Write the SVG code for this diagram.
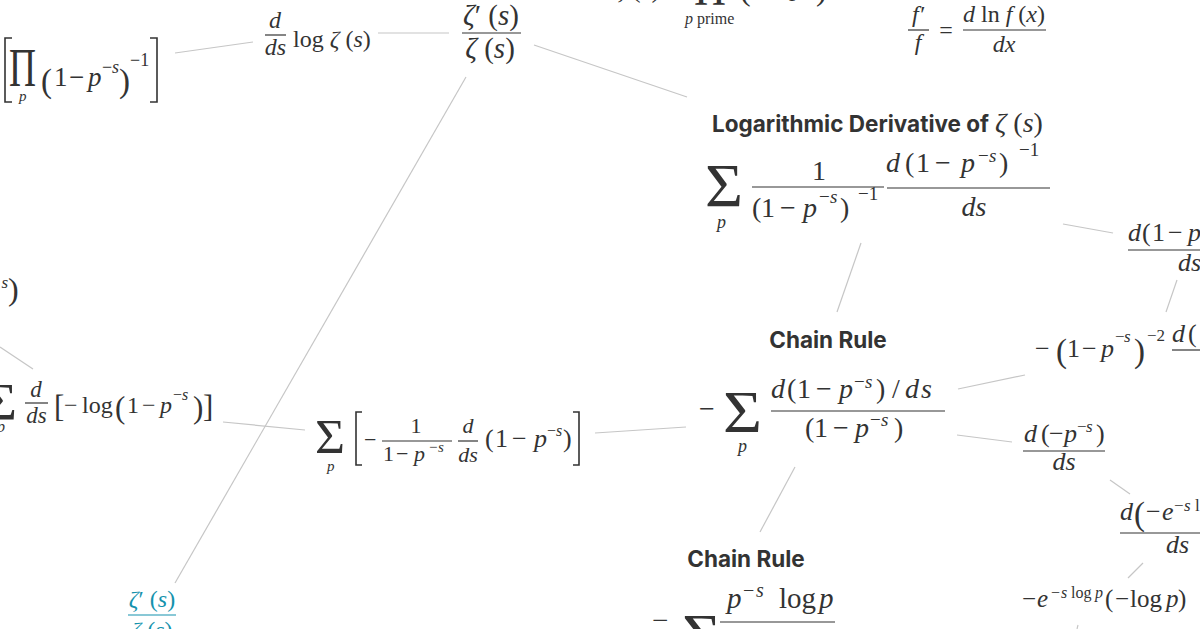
<svg xmlns="http://www.w3.org/2000/svg" width="1200" height="629" viewBox="0 0 1200 629">
<style>
.m{font-family:"Liberation Serif","DejaVu Serif",serif;fill:#333}
.i{font-style:italic}
.h{font-family:Inter,"Liberation Sans",sans-serif;font-weight:700;fill:#333}
.b{stroke:#333;stroke-width:1.2;fill:none}
.br{stroke:#333;stroke-width:1.6;fill:none}
.c line{stroke:#c6c6c6;stroke-width:1.2}
.teal{fill:#1592ad}
</style>
<rect width="1200" height="629" fill="#fff"/>
<g class="c" id="connectors">
<line x1="175" y1="53" x2="253" y2="42"/>
<line x1="378" y1="33" x2="449" y2="33"/>
<line x1="534" y1="45" x2="687" y2="97"/>
<line x1="466" y1="77" x2="175" y2="583"/>
<line x1="1063" y1="224" x2="1113" y2="233"/>
<line x1="1177" y1="280" x2="1166" y2="312"/>
<line x1="861" y1="243" x2="837" y2="312"/>
<line x1="958" y1="389" x2="1025" y2="375"/>
<line x1="957" y1="435" x2="1012" y2="442"/>
<line x1="1110" y1="480" x2="1130" y2="494"/>
<line x1="1143" y1="563" x2="1128" y2="578"/>
<line x1="1078" y1="625" x2="1077" y2="629"/>
<line x1="795" y1="467" x2="760" y2="532"/>
<line x1="595" y1="433" x2="686" y2="427"/>
<line x1="223" y1="422" x2="305" y2="430"/>
<line x1="0" y1="347" x2="33" y2="369"/>
</g>
<g id="n-euler-product">
<path class="br" d="M12,38 H5 V102 H12"/>
<path class="br" d="M150,38 H157 V102 H150"/>
<text class="m" x="9" y="86" font-size="54" textLength="27" lengthAdjust="spacingAndGlyphs">Π</text>
<text class="m i" x="19" y="101" font-size="15">p</text>
<text class="m" x="41" y="92" font-size="33">(</text>
<text class="m" font-size="27" y="86"><tspan x="54">1</tspan><tspan x="69">−</tspan><tspan x="88" class="i">p</tspan></text>
<text class="m" font-size="18" y="73"><tspan x="102">−</tspan><tspan x="112" class="i">s</tspan></text>
<text class="m" x="119" y="92" font-size="33">)</text>
<text class="m" font-size="18" x="130" y="66">−1</text>
</g>
<g id="n-dlog">
<text class="m i" x="275" y="28" font-size="24" text-anchor="middle">d</text>
<line class="b" x1="265" y1="35" x2="286" y2="35"/>
<text class="m i" x="275.5" y="55" font-size="24" text-anchor="middle">ds</text>
<text class="m" x="293" y="47" font-size="24">log <tspan class="i">ζ</tspan> (<tspan class="i">s</tspan>)</text>
</g>
<g id="n-zeta-ratio">
<text class="m" x="491" y="25" font-size="29" text-anchor="middle"><tspan class="i">ζ</tspan>′ (<tspan class="i">s</tspan>)</text>
<line class="b" x1="462" y1="33" x2="521" y2="33"/>
<text class="m" x="490" y="58" font-size="29" text-anchor="middle"><tspan class="i">ζ</tspan> (<tspan class="i">s</tspan>)</text>
</g>
<g id="n-euler-top">
<text class="m" x="613" y="-3" font-size="28"><tspan class="i">ζ</tspan> (<tspan class="i">s</tspan>)</text>
<text class="m" x="694" y="5" font-size="52" textLength="32" lengthAdjust="spacingAndGlyphs">Π</text>
<text class="m" x="685" y="24" font-size="16"><tspan class="i">p</tspan> prime</text>
<text class="m" x="740" y="0" font-size="32">(</text>
<text class="m" x="750" y="-4" font-size="26">1 − <tspan class="i">p</tspan></text>
<text class="m" x="816" y="0" font-size="32">)</text>
</g>
<g id="n-fprime">
<text class="m i" x="918" y="22" font-size="24" text-anchor="middle">f′</text>
<line class="b" x1="908" y1="30" x2="929" y2="30"/>
<text class="m i" x="918" y="50" font-size="24" text-anchor="middle">f</text>
<text class="m" x="946" y="38" font-size="24" text-anchor="middle">=</text>
<text class="m" x="1004" y="22" font-size="24" text-anchor="middle"><tspan class="i">d</tspan> ln <tspan class="i">f</tspan> (<tspan class="i">x</tspan>)</text>
<line class="b" x1="963" y1="30" x2="1046" y2="30"/>
<text class="m i" x="1004" y="52" font-size="24" text-anchor="middle">dx</text>
</g>
<g id="n-logderiv">
<text class="h" x="712" y="132" font-size="22.5">Logarithmic Derivative of</text>
<text class="m" x="995" y="132" font-size="28"><tspan class="i">ζ</tspan> (<tspan class="i">s</tspan>)</text>
<text class="m" x="705" y="206" font-size="62" textLength="38" lengthAdjust="spacingAndGlyphs">Σ</text>
<text class="m i" x="717" y="228" font-size="18">p</text>
<text class="m" x="819" y="180" font-size="28" text-anchor="middle">1</text>
<line class="b" x1="752" y1="187" x2="884" y2="187"/>
<text class="m" font-size="28" y="217"><tspan x="752">(</tspan><tspan x="761">1</tspan><tspan x="780">−</tspan><tspan x="803" class="i">p</tspan><tspan x="840">)</tspan></text>
<text class="m" font-size="19" y="203"><tspan x="819">−</tspan><tspan x="830" class="i">s</tspan></text>
<text class="m" font-size="19" x="858" y="200">−1</text>
<text class="m" font-size="28" y="172"><tspan x="886" class="i">d</tspan><tspan x="905">(</tspan><tspan x="916">1</tspan><tspan x="935">−</tspan><tspan x="961" class="i">p</tspan><tspan x="999">)</tspan></text>
<text class="m" font-size="19" y="162"><tspan x="978">−</tspan><tspan x="989" class="i">s</tspan></text>
<text class="m" font-size="19" x="1019" y="156">−1</text>
<line class="b" x1="887" y1="188" x2="1050" y2="188"/>
<text class="m i" x="974" y="216" font-size="28" text-anchor="middle">ds</text>
</g>
<g id="n-right-partial">
<text class="m" font-size="26" y="241"><tspan x="1128" class="i">d</tspan><tspan x="1142">(</tspan><tspan x="1152">1</tspan><tspan x="1168">−</tspan><tspan x="1188" class="i">p</tspan></text>
<line class="b" x1="1128" y1="250" x2="1200" y2="250"/>
<text class="m i" x="1178" y="271" font-size="26">ds</text>
</g>
<g id="n-neg-square">
<text class="m" font-size="26" y="357"><tspan x="1035">−</tspan></text>
<text class="m" font-size="33" x="1056" y="362">(</text>
<text class="m" font-size="26" y="357"><tspan x="1067">1</tspan><tspan x="1082">−</tspan><tspan x="1101" class="i">p</tspan></text>
<text class="m" font-size="17" y="342"><tspan x="1115">−</tspan><tspan x="1124" class="i">s</tspan></text>
<text class="m" font-size="33" x="1134" y="362">)</text>
<text class="m" font-size="17" x="1147" y="341">−2</text>
<text class="m" font-size="26" y="342"><tspan x="1172" class="i">d</tspan><tspan x="1188">(</tspan></text>
<line class="b" x1="1172" y1="350" x2="1200" y2="350"/>
</g>
<g id="n-chain1">
<text class="h" x="828" y="348" font-size="22.5" text-anchor="middle">Chain Rule</text>
<text class="m" x="699" y="418" font-size="28">−</text>
<text class="m" x="723" y="432" font-size="60" textLength="39" lengthAdjust="spacingAndGlyphs">Σ</text>
<text class="m i" x="738" y="452" font-size="18">p</text>
<text class="m" font-size="28" y="398"><tspan x="771" class="i">d</tspan><tspan x="787">(</tspan><tspan x="797">1</tspan><tspan x="816">−</tspan><tspan x="839" class="i">p</tspan><tspan x="876">)</tspan><tspan x="892">/</tspan><tspan x="905" class="i">d</tspan><tspan x="921" class="i">s</tspan></text>
<text class="m" font-size="19" y="388"><tspan x="854">−</tspan><tspan x="865" class="i">s</tspan></text>
<line class="b" x1="771" y1="411" x2="945" y2="411"/>
<text class="m" font-size="28" y="437"><tspan x="805">(</tspan><tspan x="814">1</tspan><tspan x="833">−</tspan><tspan x="855" class="i">p</tspan><tspan x="894">)</tspan></text>
<text class="m" font-size="19" y="426"><tspan x="870">−</tspan><tspan x="881" class="i">s</tspan></text>
</g>
<g id="n-dneg-p">
<text class="m" font-size="26" y="442"><tspan x="1024" class="i">d</tspan><tspan x="1041">(</tspan><tspan x="1049">−</tspan><tspan x="1064" class="i">p</tspan><tspan x="1096">)</tspan></text>
<text class="m" font-size="17" y="432"><tspan x="1077">−</tspan><tspan x="1086" class="i">s</tspan></text>
<line class="b" x1="1023" y1="451" x2="1105" y2="451"/>
<text class="m i" x="1064" y="470" font-size="26" text-anchor="middle">ds</text>
</g>
<g id="n-dneg-e">
<text class="m" font-size="26" y="520"><tspan x="1120" class="i">d</tspan></text>
<text class="m" font-size="33" x="1134" y="525">(</text>
<text class="m" font-size="26" y="520"><tspan x="1146">−</tspan><tspan x="1162" class="i">e</tspan></text>
<text class="m" font-size="17" y="511"><tspan x="1174">−</tspan><tspan x="1184" class="i">s</tspan><tspan x="1195">l</tspan></text>
<line class="b" x1="1120" y1="533" x2="1200" y2="533"/>
<text class="m i" x="1166" y="553" font-size="26">ds</text>
</g>
<g id="n-result-e">
<text class="m" font-size="25" y="607"><tspan x="1022">−</tspan><tspan x="1037" class="i">e</tspan><tspan x="1105">(</tspan><tspan x="1115">−</tspan><tspan x="1130">log</tspan><tspan x="1166" class="i">p</tspan><tspan x="1178">)</tspan></text>
<text class="m" font-size="16" y="598"><tspan x="1051">−</tspan><tspan x="1061" class="i">s</tspan><tspan x="1071">log</tspan><tspan x="1095" class="i">p</tspan></text>
</g>
<g id="n-chain2">
<text class="h" x="746" y="567" font-size="22.5" text-anchor="middle">Chain Rule</text>
<text class="m" x="652" y="630" font-size="29">−</text>
<text class="m" x="682" y="655" font-size="60" textLength="39" lengthAdjust="spacingAndGlyphs">Σ</text>
<text class="m" font-size="29" y="608"><tspan x="727" class="i">p</tspan><tspan x="779">log</tspan><tspan x="819" class="i">p</tspan></text>
<text class="m" font-size="20" y="597"><tspan x="743">−</tspan><tspan x="756" class="i">s</tspan></text>
<line class="b" x1="720" y1="622" x2="835" y2="622"/>
</g>
<g id="n-left-partial">
<text class="m" font-size="17" x="8" y="288" text-anchor="end"><tspan class="i">s</tspan></text>
<text class="m" font-size="32" x="8" y="300">)</text>
</g>
<g id="n-sum-dlog">
<text class="m" x="-16" y="420" font-size="52" textLength="33" lengthAdjust="spacingAndGlyphs">Σ</text>
<text class="m i" x="-3" y="432" font-size="16">p</text>
<text class="m i" x="36" y="397" font-size="23" text-anchor="middle">d</text>
<line class="b" x1="25" y1="403" x2="48" y2="403"/>
<text class="m i" x="36.5" y="423" font-size="23" text-anchor="middle">ds</text>
<text class="m" font-size="31" x="54" y="417">[</text>
<text class="m" font-size="24" y="413"><tspan x="64">−</tspan><tspan x="82">log</tspan></text>
<text class="m" font-size="31" x="115" y="418">(</text>
<text class="m" font-size="24" y="413"><tspan x="127">1</tspan><tspan x="142">−</tspan><tspan x="160" class="i">p</tspan></text>
<text class="m" font-size="16" y="400"><tspan x="173">−</tspan><tspan x="182" class="i">s</tspan></text>
<text class="m" font-size="31" x="193" y="418">)</text>
<text class="m" font-size="31" x="203" y="417">]</text>
</g>
<g id="n-sum-bracket">
<text class="m" x="315" y="453" font-size="48" textLength="30" lengthAdjust="spacingAndGlyphs">Σ</text>
<text class="m i" x="327" y="471" font-size="15">p</text>
<path class="br" d="M362,412 H356 V465 H362"/>
<path class="br" d="M573,412 H579 V465 H573"/>
<text class="m" x="364" y="447" font-size="22">−</text>
<text class="m" x="416" y="433" font-size="22" text-anchor="middle">1</text>
<line class="b" x1="382" y1="441" x2="452" y2="441"/>
<text class="m" font-size="22" y="461"><tspan x="383">1</tspan><tspan x="396">−</tspan><tspan x="414" class="i">p</tspan></text>
<text class="m" font-size="15" y="452"><tspan x="429">−</tspan><tspan x="438" class="i">s</tspan></text>
<text class="m i" x="468" y="433" font-size="22" text-anchor="middle">d</text>
<line class="b" x1="458" y1="441" x2="478" y2="441"/>
<text class="m i" x="468" y="462" font-size="22" text-anchor="middle">ds</text>
<text class="m" font-size="26" y="447"><tspan x="485">(</tspan><tspan x="495">1</tspan><tspan x="512">−</tspan><tspan x="534" class="i">p</tspan><tspan x="563">)</tspan></text>
<text class="m" font-size="16" y="436"><tspan x="547">−</tspan><tspan x="556" class="i">s</tspan></text>
</g>
<g id="n-teal">
<text class="m teal" x="152" y="607" font-size="24" text-anchor="middle"><tspan class="i">ζ</tspan>′ (<tspan class="i">s</tspan>)</text>
<line x1="128" y1="615" x2="176" y2="615" stroke="#1592ad" stroke-width="1.2"/>
<text class="m teal" x="152" y="638" font-size="24" text-anchor="middle"><tspan class="i">ζ</tspan> (<tspan class="i">s</tspan>)</text>
</g>
</svg>
